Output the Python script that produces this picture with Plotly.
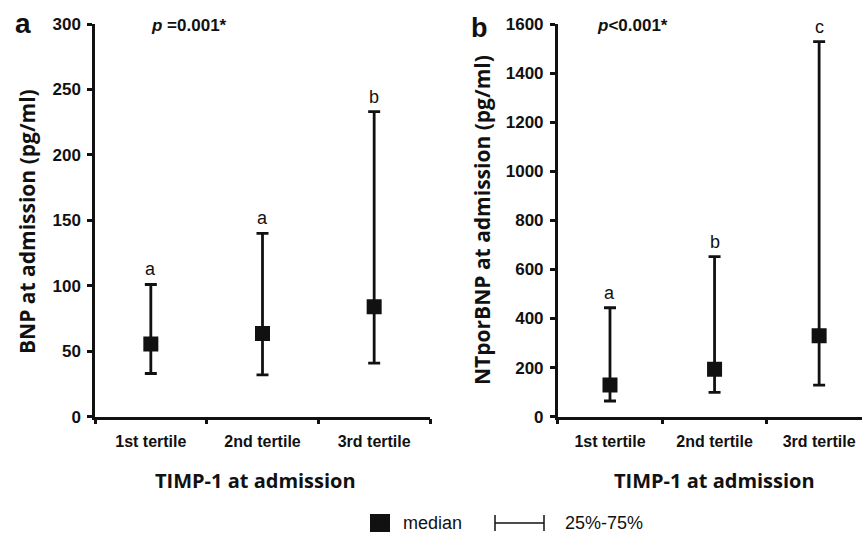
import plotly.graph_objects as go

categories = ["1st tertile", "2nd tertile", "3rd tertile"]
bnp_median = [55.5, 63.5, 84]
bnp_q1 = [33, 32, 41]
bnp_q3 = [101, 140, 233]
bnp_letters = ["a", "a", "b"]

nt_median = [129, 193, 330]
nt_q1 = [64, 99, 129]
nt_q3 = [444, 652, 1528]
nt_letters = ["a", "b", "c"]

W, H = 862, 535
YTICKFONT = dict(family="Liberation Sans, Arial", size=17, color="#111", weight="bold")
XTICKFONT = dict(family="Liberation Sans, Arial", size=16, color="#111", weight="bold")
XTITLEFONT = dict(family="Open Sans", size=20, color="#111")
YTITLEFONT = dict(family="Open Sans", size=21, color="#111")

fig = go.Figure()
xs = [0, 1, 2]

def add_panel(med, q1, q3, xa, ya):
    fig.add_trace(go.Scatter(
        x=xs, y=med, mode="markers", xaxis=xa, yaxis=ya, showlegend=False,
        marker=dict(symbol="square", size=15, color="#111"),
        error_y=dict(type="data", symmetric=False,
                     array=[h - m for h, m in zip(q3, med)],
                     arrayminus=[m - l for m, l in zip(med, q1)],
                     color="#111", thickness=2.8, width=6),
    ))

add_panel(bnp_median, bnp_q1, bnp_q3, "x", "y")
add_panel(nt_median, nt_q1, nt_q3, "x2", "y2")

ydom = [1 - 416.7 / H, 1 - 24 / H]
axis_common = dict(showgrid=False, zeroline=False, showline=True, linewidth=2.5,
                   linecolor="#111", ticks="outside", automargin=False,
                   ticklen=5, tickwidth=2.5, tickcolor="#111")

xcommon = dict(axis_common, tickfont=XTICKFONT, tickvals=xs, ticktext=categories, ticks="",
               ticklabelstandoff=8,
               minor=dict(tickvals=[-0.5, 0.5, 1.5, 2.5], ticks="outside",
                          ticklen=5, tickwidth=2.5, tickcolor="#111"))
ycommon = dict(axis_common, tickfont=YTICKFONT, domain=ydom, ticklabelstandoff=3)

fig.update_layout(
    width=W, height=H, margin=dict(l=0, r=0, t=0, b=0, pad=0),
    paper_bgcolor="white", plot_bgcolor="white", showlegend=False,
    xaxis=dict(xcommon, domain=[95 / W, 430 / W], range=[-0.5, 2.5], anchor="y"),
    yaxis=dict(ycommon, range=[0, 300], tickvals=[0, 50, 100, 150, 200, 250, 300], anchor="x"),
    xaxis2=dict(xcommon, domain=[557.7 / W, 1.0], range=[-0.5, 2.41], anchor="y2"),
    yaxis2=dict(ycommon, range=[0, 1600], anchor="x2",
                tickvals=list(range(0, 1601, 200))),
)

LETTERFONT = dict(family="Liberation Sans, Arial", size=18, color="#111")
for i, (v, t) in enumerate(zip(bnp_q3, bnp_letters)):
    fig.add_annotation(x=i, y=v, xref="x", yref="y", text=t, showarrow=False,
                       yshift=15, font=LETTERFONT)
for i, (v, t) in enumerate(zip(nt_q3, nt_letters)):
    fig.add_annotation(x=i, y=v, xref="x2", yref="y2", text=t, showarrow=False,
                       yshift=15, font=LETTERFONT)

def pa(x, y, text, font, xanchor="center", **kw):
    fig.add_annotation(x=x / W, y=1 - y / H, xref="paper", yref="paper", text=text,
                       showarrow=False, font=font, xanchor=xanchor, yanchor="middle", **kw)

# axis titles
pa(27, 222, "<b>BNP at admission (pg/ml)</b>", YTITLEFONT, textangle=-90)
pa(482, 220, "<b>NTporBNP at admission (pg/ml)</b>", YTITLEFONT, textangle=-90)
pa(255, 480, "<b>TIMP-1 at admission</b>", XTITLEFONT)
pa(714, 480, "<b>TIMP-1 at admission</b>", XTITLEFONT)

# panel letters and p-values
pa(23, 24, "<b>a</b>", dict(family="Liberation Sans, Arial", size=28, color="#111"))
pa(479, 28, "<b>b</b>", dict(family="Liberation Sans, Arial", size=27, color="#111"))
pa(189, 25, "<b><i>p</i> =0.001*</b>", dict(family="Liberation Sans, Arial", size=17, color="#111"))
pa(632, 25, "<b><i>p</i><0.001*</b>", dict(family="Liberation Sans, Arial", size=17, color="#111"))

# legend
LY = 523
fig.add_shape(type="rect", xref="paper", yref="paper",
              x0=370 / W, x1=390 / W, y0=1 - (LY + 9) / H, y1=1 - (LY - 9) / H,
              fillcolor="#111", line=dict(width=0))
pa(401, LY, "median", dict(family="Liberation Sans, Arial", size=18, color="#111"), xanchor="left")
lc = dict(color="#111", width=1.5)
fig.add_shape(type="line", xref="paper", yref="paper", x0=495 / W, x1=544 / W,
              y0=1 - LY / H, y1=1 - LY / H, line=lc)
fig.add_shape(type="line", xref="paper", yref="paper", x0=495 / W, x1=495 / W,
              y0=1 - (LY - 8) / H, y1=1 - (LY + 8) / H, line=lc)
fig.add_shape(type="line", xref="paper", yref="paper", x0=544 / W, x1=544 / W,
              y0=1 - (LY - 8) / H, y1=1 - (LY + 8) / H, line=lc)
pa(563, LY, "25%-75%", dict(family="Liberation Sans, Arial", size=18, color="#111"), xanchor="left")

fig.write_html("out.html", config={"displayModeBar": False},
               post_script="document.body.style.margin='0';document.body.style.overflow='hidden';")
